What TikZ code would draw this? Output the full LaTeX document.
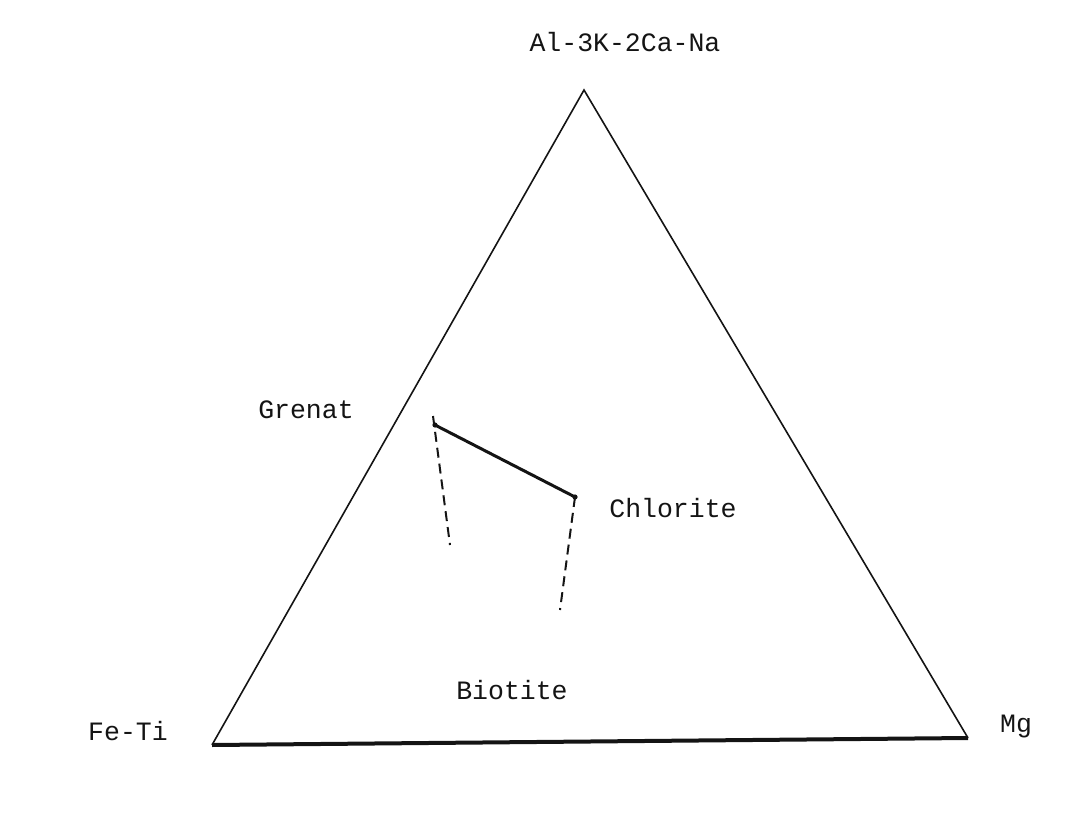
\documentclass[tikz,border=0pt]{standalone}
\usepackage{fontspec}
\setmonofont{Liberation Mono}
\usepackage{xcolor}
\usepackage{tikz}
\usetikzlibrary{positioning,calc}
\definecolor{ink}{RGB}{20,20,20}
\tikzset{
    lbl/.style={font=\ttfamily\fontsize{26.5}{30}\selectfont, color=ink, inner sep=0pt},
    edge/.style={draw=ink, line width=1.6pt},
    base/.style={draw=ink, line width=4pt},
    tie/.style={draw=ink, line width=3pt},
    trend/.style={draw=ink, line width=2pt, dash pattern=on 10pt off 6pt}
}
\begin{document}
\begin{tikzpicture}[x=1pt,y=-1pt]
\useasboundingbox (0,0) rectangle (1068,834);
% triangle
\coordinate (al) at (584,90);
\coordinate (fe) at (212,745);
\coordinate (mg) at (968,738);
\draw[edge] (fe) -- (al) -- (mg);
\draw[base] (fe) -- (mg);
% poles
\node[lbl] (altop) at (625,42) {Al-3K-2Ca-Na};
\node[lbl] (feti) at (128,731) {Fe-Ti};
\node[lbl] (mgl) at (1016,727) {Mg};
% minerals
\node[lbl] (grenat) at (306,410) {Grenat};
\node[lbl] (chlorite) at (673,508) {Chlorite};
\node[lbl] (biotite) at (512,690) {Biotite};
\coordinate (grt) at (435,425);
\coordinate (chl) at (575,497);
\coordinate (grtend) at (450,545);
\coordinate (chlend) at (560,610);
\draw[tie] (grt) -- (chl);
\draw[trend] (433,416) -- (grtend);
\draw[trend] (chl) -- (chlend);
\fill[ink] (grt) circle (2.6pt);
\fill[ink] (chl) circle (2.6pt);
\end{tikzpicture}
\end{document}
